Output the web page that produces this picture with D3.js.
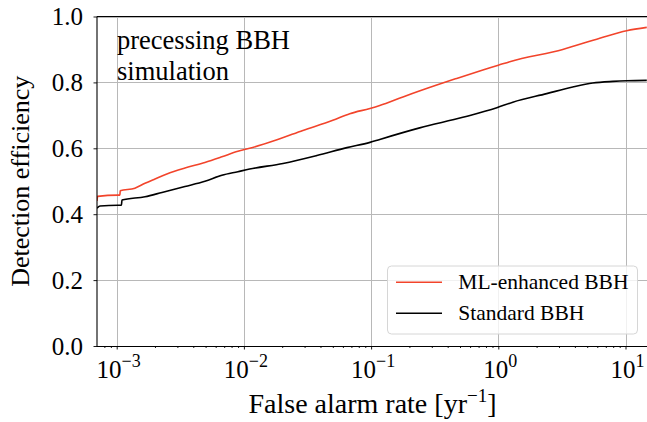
<!DOCTYPE html>
<html><head><meta charset="utf-8">
<script src="https://cdn.jsdelivr.net/npm/d3@7"></script>
<style>
html,body{margin:0;padding:0;background:#fff;}
svg{display:block;}
</style></head>
<body>
<svg id="chart" width="647" height="422" font-family="'Liberation Serif', 'Times New Roman', serif"></svg>
<script>
// ---- data ----
const farRed = [7.0e-4, 7.08e-4, 1.02e-3, 1.06e-3, 1.066e-3, 1.39e-3, 1.67e-3, 2.0e-3, 2.48e-3, 3.44e-3, 4.94e-3, 6.71e-3, 8.97e-3, 1.11e-2, 1.82e-2, 2.91e-2, 5.0e-2, 6.8e-2, 9.8e-2, 0.117, 0.178, 0.328, 0.471, 0.735, 1.0, 1.23, 3.21, 6.27, 10.2, 14.7];
const effRed = [0.440, 0.454, 0.458, 0.458, 0.471, 0.479, 0.494, 0.507, 0.522, 0.540, 0.557, 0.574, 0.591, 0.600, 0.626, 0.654, 0.685, 0.705, 0.721, 0.730, 0.756, 0.792, 0.812, 0.836, 0.852, 0.863, 0.900, 0.934, 0.957, 0.967];
const farBlack = [7.0e-4, 7.4e-4, 1.02e-3, 1.09e-3, 1.10e-3, 1.67e-3, 2.27e-3, 3.44e-3, 4.94e-3, 6.71e-3, 8.97e-3, 1.11e-2, 2.03e-2, 3.75e-2, 6.46e-2, 9.8e-2, 0.117, 0.241, 0.526, 0.973, 1.30, 2.40, 3.85, 5.52, 7.94, 10.2, 14.7];
const effBlack = [0.418, 0.425, 0.427, 0.427, 0.443, 0.453, 0.466, 0.484, 0.500, 0.518, 0.529, 0.537, 0.554, 0.578, 0.602, 0.618, 0.627, 0.662, 0.694, 0.723, 0.740, 0.766, 0.786, 0.798, 0.803, 0.805, 0.806];
const seriesNames = ["ML-enhanced BBH", "Standard BBH"];
const seriesColors = ["#f2442b", "#000000"];
const xTickExps = [-3, -2, -1, 0, 1];
const yTicks = [0.0, 0.2, 0.4, 0.6, 0.8, 1.0];
const annotation = ["precessing BBH", "simulation"];
const xLabel = "False alarm rate [yr";
const yLabel = "Detection efficiency";

// ---- layout ----
const FONT = "'Liberation Serif', 'Times New Roman', serif";
const L = 97, R = 648, T = 16.5, B = 346;
const svg = d3.select("#chart");
const x = d3.scaleLog().domain([Math.pow(10, -3.1548), Math.pow(10, 1.1768)]).range([L, R]);
const y = d3.scaleLinear().domain([0, 1]).range([B, T]);

svg.append("defs").append("clipPath").attr("id", "clip")
  .append("rect").attr("x", L).attr("y", T).attr("width", R - L).attr("height", B - T);

// grid
const grid = svg.append("g").attr("stroke", "#b8b8b8").attr("stroke-width", 1);
xTickExps.forEach(e => {
  const px = Math.round(x(Math.pow(10, e))) + 0.5;
  grid.append("line").attr("x1", px).attr("x2", px).attr("y1", T).attr("y2", B);
});
yTicks.forEach(v => {
  const py = Math.round(y(v)) + 0.5;
  grid.append("line").attr("x1", L).attr("x2", R).attr("y1", py).attr("y2", py);
});

// lines
const line = d3.line().x(d => x(d[0])).y(d => y(d[1])).curve(d3.curveMonotoneX);
const dataSets = [d3.zip(farRed, effRed), d3.zip(farBlack, effBlack)];
const plotG = svg.append("g").attr("clip-path", "url(#clip)");
[1, 0].forEach(i => {
  plotG.append("path").datum(dataSets[i]).attr("d", line)
    .attr("fill", "none").attr("stroke", seriesColors[i]).attr("stroke-width", 1.6)
    .attr("stroke-linejoin", "round");
});

// axes
const xAxis = d3.axisBottom(x).tickValues(xTickExps.map(e => Math.pow(10, e))).tickFormat("").tickSizeOuter(0).tickSizeInner(3.5);
const minor = [];
for (let e = -4; e <= 1; e++) for (let k = 2; k <= 9; k++) {
  const v = k * Math.pow(10, e);
  if (v >= x.domain()[0] && v <= x.domain()[1]) minor.push(v);
}
svg.append("g").attr("transform", `translate(0,${B})`).call(xAxis);
svg.append("g").attr("transform", `translate(0,${B})`)
  .call(d3.axisBottom(x).tickValues(minor).tickFormat("").tickSizeOuter(0).tickSizeInner(2));
svg.append("g").attr("transform", `translate(${L},0)`)
  .call(d3.axisLeft(y).tickValues(yTicks).tickFormat("").tickSizeOuter(0).tickSizeInner(3.5));
svg.selectAll(".domain").remove();
svg.selectAll(".tick line").attr("stroke", "#000").attr("stroke-width", 0.9);

// spines
svg.append("line").attr("x1", L).attr("x2", R).attr("y1", B + 0.5).attr("y2", B + 0.5).attr("stroke", "#000").attr("stroke-width", 1.1);
svg.append("line").attr("x1", L).attr("x2", R).attr("y1", T).attr("y2", T).attr("stroke", "#000").attr("stroke-width", 1.1);
svg.append("line").attr("x1", L).attr("x2", L).attr("y1", T).attr("y2", B + 1).attr("stroke", "#000").attr("stroke-width", 1.1);

function txt(sel) { return sel.append("text").attr("font-family", FONT).attr("fill", "#000"); }

// x tick labels
xTickExps.forEach(e => {
  const t = txt(svg).attr("x", x(Math.pow(10, e)) + 2).attr("y", 378)
    .attr("text-anchor", "middle").attr("font-size", 25);
  t.append("tspan").text("10");
  t.append("tspan").attr("dy", -11).attr("font-size", 18).text(e < 0 ? "\u2212" + Math.abs(e) : String(e));
});
// y tick labels
yTicks.forEach(v => {
  txt(svg).attr("x", 83).attr("y", y(v) + 8.5).attr("text-anchor", "end")
    .attr("font-size", 25).text(v.toFixed(1));
});

// axis labels
const xl = txt(svg).attr("x", 372.5).attr("y", 413).attr("text-anchor", "middle").attr("font-size", 28);
xl.append("tspan").text(xLabel);
xl.append("tspan").attr("dy", -11).attr("font-size", 19).text("\u22121");
xl.append("tspan").attr("dy", 11).text("]");
txt(svg).attr("transform", `translate(28.5,${(T + B) / 2}) rotate(-90)`)
  .attr("text-anchor", "middle").attr("font-size", 26).text(yLabel);

// annotation
annotation.forEach((s, i) => {
  txt(svg).attr("x", 117).attr("y", 48.5 + i * 31.7).attr("font-size", 26.5).text(s);
});

// legend
const lg = svg.append("g");
lg.append("rect").attr("x", 387.5).attr("y", 266).attr("width", 250).attr("height", 68).attr("rx", 4)
  .attr("fill", "#fff").attr("fill-opacity", 0.8).attr("stroke", "#d6d6d6").attr("stroke-width", 1);
seriesNames.forEach((name, i) => {
  const ry = 282.3 + i * 31;
  lg.append("line").attr("x1", 396).attr("x2", 442).attr("y1", ry).attr("y2", ry)
    .attr("stroke", seriesColors[i]).attr("stroke-width", 1.6);
  txt(lg).attr("x", 458.3).attr("y", ry + 7).attr("font-size", 21.5).text(name);
});
</script>
</body></html>
